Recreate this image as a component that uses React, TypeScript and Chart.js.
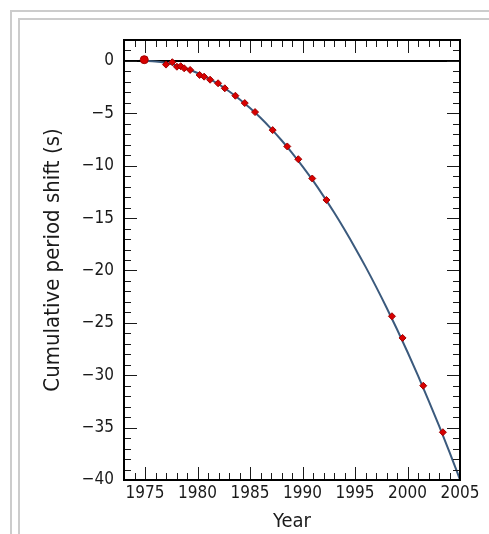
import React, { useEffect, useRef } from 'react';
import { Chart, registerables } from 'chart.js';

Chart.register(...registerables);

const FONT = "'DejaVu Sans Condensed', 'DejaVu Sans', sans-serif";

// Axis ranges and tick labels
const X_MIN = 1973;
const X_MAX = 2005;
const Y_MIN = -40;
const Y_MAX = 2;
const X_TICKS = [1975, 1980, 1985, 1990, 1995, 2000, 2005];
const Y_TICKS = [0, -5, -10, -15, -20, -25, -30, -35, -40];

// General-relativity prediction curve
const CURVE_YEARS = [1974.9, 1976, 1977, 1978, 1979, 1980, 1981, 1982, 1983, 1984, 1985, 1986, 1987, 1988, 1989, 1990, 1991, 1992, 1993, 1994, 1995, 1996, 1997, 1998, 1999, 2000, 2001, 2002, 2003, 2004, 2005];
const CURVE_SHIFT = [0, -0.05, -0.19, -0.42, -0.74, -1.15, -1.64, -2.22, -2.89, -3.65, -4.5, -5.43, -6.46, -7.57, -8.77, -10.06, -11.43, -12.9, -14.45, -16.09, -17.82, -19.63, -21.54, -23.53, -25.61, -27.78, -30.04, -32.39, -34.82, -37.35, -39.96];

// Observed periastron shifts
const OBS_YEARS = [1974.93, 1977.0, 1977.6, 1978.04, 1978.4, 1978.73, 1979.3, 1980.2, 1980.63, 1981.2, 1981.96, 1982.6, 1983.61, 1984.5, 1985.48, 1987.16, 1988.55, 1989.6, 1990.93, 1992.28, 1998.52, 1999.53, 2001.5, 2003.37];
const OBS_SHIFT = [0.12, -0.35, -0.12, -0.55, -0.5, -0.7, -0.86, -1.34, -1.5, -1.79, -2.13, -2.61, -3.32, -4.02, -4.88, -6.6, -8.16, -9.38, -11.22, -13.27, -24.37, -26.44, -31.0, -35.44];

// Zero reference line
const ZERO_YEARS = [X_MIN, X_MAX];
const ZERO_SHIFT = [0, 0];

const fmtMinus = (v: number) => (v < 0 ? '\u2212' + Math.abs(v) : String(v));

const framePlugin = {
  id: 'mplFrame',
  afterDraw(chart: any) {
    const { ctx, chartArea: a, scales } = chart;
    const x = scales.x;
    const y = scales.y;
    ctx.save();
    ctx.strokeStyle = '#1a1a1a';
    ctx.lineWidth = 1;
    const seg = (x1: number, y1: number, x2: number, y2: number) => {
      ctx.beginPath();
      ctx.moveTo(x1, y1);
      ctx.lineTo(x2, y2);
      ctx.stroke();
    };
    for (let v = Math.ceil(x.min); v <= x.max; v++) {
      const px = Math.round(x.getPixelForValue(v)) + 0.5;
      const len = v % 5 === 0 ? 13 : 7;
      seg(px, a.bottom, px, a.bottom - len);
      seg(px, a.top, px, a.top + len);
    }
    for (let v = Math.ceil(y.min); v <= y.max; v++) {
      const py = Math.round(y.getPixelForValue(v)) + 0.5;
      const len = v % 5 === 0 ? 13 : 7;
      seg(a.left, py, a.left + len, py);
      seg(a.right, py, a.right - len, py);
    }
    ctx.lineWidth = 2;
    ctx.strokeStyle = '#000';
    ctx.strokeRect(a.left, a.top, a.right - a.left, a.bottom - a.top);
    ctx.restore();
  },
};

const line = (left: number, top: number, width: number, height: number) => (
  <div style={{ position: 'absolute', left, top, width, height, background: '#cccccc' }} />
);

export default function App() {
  const ref = useRef<HTMLCanvasElement>(null);

  useEffect(() => {
    const obs = OBS_YEARS.map((x, i) => ({ x, y: OBS_SHIFT[i] }));
    const curve = CURVE_YEARS.map((x, i) => ({ x, y: CURVE_SHIFT[i] }));
    const zero = ZERO_YEARS.map((x, i) => ({ x, y: ZERO_SHIFT[i] }));

    const chart = new Chart(ref.current as HTMLCanvasElement, {
      type: 'scatter',
      data: {
        datasets: [
          {
            data: obs,
            showLine: false,
            pointStyle: (c: any) => (c.dataIndex === 0 ? 'circle' : 'rectRot'),
            pointRadius: (c: any) => (c.dataIndex === 0 ? 4 : 3.5),
            backgroundColor: '#d80000',
            borderColor: '#a00000',
            borderWidth: 1,
          },
          {
            data: curve,
            showLine: true,
            pointRadius: 0,
            borderColor: '#3b5a7d',
            borderWidth: 2,
            cubicInterpolationMode: 'monotone',
          },
          {
            data: zero,
            showLine: true,
            pointRadius: 0,
            borderColor: '#000000',
            borderWidth: 2,
          },
        ],
      },
      options: {
        animation: false,
        responsive: true,
        maintainAspectRatio: false,
        events: [],
        layout: { padding: { left: 0, right: 29, top: 40, bottom: 0 } },
        plugins: { legend: { display: false }, tooltip: { enabled: false } },
        scales: {
          x: {
            type: 'linear',
            min: X_MIN,
            max: X_MAX,
            grid: { display: false, drawTicks: false },
            border: { display: false },
            afterBuildTicks: (s: any) => {
              s.ticks = X_TICKS.map((value) => ({ value }));
            },
            afterFit: (s: any) => {
              s.height = 54;
            },
            ticks: {
              autoSkip: false,
              maxRotation: 0,
              padding: 3,
              color: '#1a1a1a',
              font: { family: FONT, size: 17 },
              callback: (v: any) => String(v),
            },
            title: {
              display: true,
              text: 'Year',
              color: '#1a1a1a',
              font: { family: FONT, size: 20 },
              padding: { top: 0, bottom: 0 },
            },
          },
          y: {
            type: 'linear',
            min: Y_MIN,
            max: Y_MAX,
            grid: { display: false, drawTicks: false },
            border: { display: false },
            afterBuildTicks: (s: any) => {
              s.ticks = Y_TICKS.map((value) => ({ value }));
            },
            afterFit: (s: any) => {
              s.width = 124;
            },
            ticks: {
              autoSkip: false,
              padding: 10,
              color: '#1a1a1a',
              font: { family: FONT, size: 17 },
              callback: (v: any) => fmtMinus(Number(v)),
            },
            title: {
              display: true,
              text: 'Cumulative period shift (s)',
              color: '#1a1a1a',
              font: { family: FONT, size: 22 },
              padding: { top: 40, bottom: 0 },
            },
          },
        },
      },
      plugins: [framePlugin],
    } as any);

    return () => chart.destroy();
  }, []);

  return (
    <div style={{ position: 'fixed', left: 0, top: 0, width: 489, height: 534, background: '#fff', overflow: 'hidden' }}>
      {line(10, 10, 479, 2)}
      {line(10, 10, 2, 524)}
      {line(18, 18, 471, 2)}
      {line(18, 18, 2, 516)}
      <div style={{ position: 'absolute', left: 0, top: 0, width: 489, height: 534 }}>
        <canvas ref={ref} />
      </div>
    </div>
  );
}
